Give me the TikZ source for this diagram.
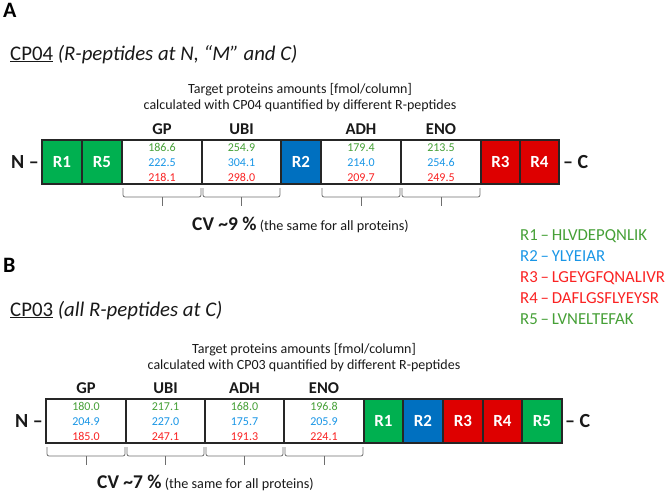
\documentclass[tikz,border=0pt]{standalone}
\usepackage{fontspec}
\setmainfont{Carlito}
\usetikzlibrary{calc}
\definecolor{boxgreen}{RGB}{0,176,80}
\definecolor{boxblue}{RGB}{0,112,192}
\definecolor{boxred}{RGB}{222,0,0}
\definecolor{numgreen}{RGB}{70,160,55}
\definecolor{numblue}{RGB}{25,150,230}
\definecolor{numred}{RGB}{250,35,35}
\definecolor{txt}{RGB}{25,25,25}
\definecolor{brkgray}{RGB}{110,110,110}
\tikzset{
  cell/.style={draw=black!85, line width=1.2pt, minimum height=44pt, inner sep=0pt, outer sep=0pt},
  pcell/.style={cell, fill=white},
  rcell/.style={cell, text=white, font=\bfseries\fontsize{17}{17}\selectfont},
  gcell/.style={rcell, fill=boxgreen},
  bcell/.style={rcell, fill=boxblue},
  redcell/.style={rcell, fill=boxred},
  num/.style={anchor=base, inner sep=0pt, font=\fontsize{12}{12}\selectfont},
  plabel/.style={anchor=base, inner sep=0pt, text=txt, font=\bfseries\fontsize{16.5}{16.5}\selectfont},
  header/.style={anchor=base, inner sep=0pt, text=txt, font=\fontsize{14}{14}\selectfont},
  term/.style={inner sep=0pt, text=txt, font=\bfseries\fontsize{20}{20}\selectfont},
  panel/.style={anchor=base west, inner sep=0pt, text=black, font=\bfseries\fontsize{22}{22}\selectfont},
  title/.style={anchor=base west, inner sep=0pt, text=txt, font=\fontsize{20.8}{20.8}\selectfont},
  cvtext/.style={anchor=base west, inner sep=0pt, text=txt, font=\fontsize{14.2}{14.2}\selectfont},
  legend/.style={anchor=base west, inner sep=0pt, font=\fontsize{16.8}{16.8}\selectfont},
  brk/.style={draw=brkgray, line width=0.8pt, rounded corners=2pt},
}
\begin{document}
\begin{tikzpicture}[x=1pt,y=-1pt]
\useasboundingbox (0,0) rectangle (666,493);

% ---------- Panel A ----------
\node[panel] (labA) at (3,17) {A};
\node[title] (titA) at (10,60) {\underline{CP04} \textit{(R-peptides at N, “M” and C)}};
\node[header] (hA1) at (300,93) {Target proteins amounts [fmol/column]};
\node[header] (hA2) at (300,109) {calculated with CP04 quantified by different R-peptides};

\node[gcell, minimum width=40pt] (r1A) at (62,162) {R1};
\node[gcell, minimum width=40pt] (r5A) at (102,162) {R5};
\node[pcell, minimum width=80pt] (gpA) at (162,162) {};
\node[pcell, minimum width=79pt] (ubiA) at (241.5,162) {};
\node[bcell, minimum width=40pt] (r2A) at (301,162) {R2};
\node[pcell, minimum width=80pt] (adhA) at (361,162) {};
\node[pcell, minimum width=80pt] (enoA) at (441,162) {};
\node[redcell, minimum width=39pt] (r3A) at (500.5,162) {R3};
\node[redcell, minimum width=39pt] (r4A) at (539.5,162) {R4};

\node[term, anchor=east] (nA) at (39,162) {N –};
\node[term, anchor=west] (cA) at (563,162) {– C};

% ---------- Panel B ----------
\node[panel] (labB) at (3,272) {B};
\node[title] (titB) at (10,316) {\underline{CP03} \textit{(all R-peptides at C)}};
\node[header] (hB1) at (304,353) {Target proteins amounts [fmol/column]};
\node[header] (hB2) at (304,369) {calculated with CP03 quantified by different R-peptides};

\node[pcell, minimum width=80pt] (gpB) at (86,421) {};
\node[pcell, minimum width=79pt] (ubiB) at (165.5,421) {};
\node[pcell, minimum width=79pt] (adhB) at (244.5,421) {};
\node[pcell, minimum width=80pt] (enoB) at (324,421) {};
\node[gcell, minimum width=39pt] (r1B) at (383.5,421) {R1};
\node[bcell, minimum width=40pt] (r2B) at (423,421) {R2};
\node[redcell, minimum width=40pt] (r3B) at (463,421) {R3};
\node[redcell, minimum width=39pt] (r4B) at (502.5,421) {R4};
\node[gcell, minimum width=40pt] (r5B) at (542,421) {R5};

\node[term, anchor=east] (nB) at (43,421) {N –};
\node[term, anchor=west] (cB) at (565,421) {– C};

% ---------- protein labels, numbers, brackets ----------
\foreach \c/\lab/\g/\b/\r in {
  gpA/GP/186.6/222.5/218.1, ubiA/UBI/254.9/304.1/298.0,
  adhA/ADH/179.4/214.0/209.7, enoA/ENO/213.5/254.6/249.5,
  gpB/GP/180.0/204.9/185.0, ubiB/UBI/217.1/227.0/247.1,
  adhB/ADH/168.0/175.7/191.3, enoB/ENO/196.8/205.9/224.1} {
  \node[plabel] (\c-lab) at ($(\c.north)+(0,-6)$) {\lab};
  \node[num, text=numgreen] (\c-g) at ($(\c.center)+(0,-11)$) {\g};
  \node[num, text=numblue] (\c-b) at ($(\c.center)+(0,4)$) {\b};
  \node[num, text=numred] (\c-r) at ($(\c.center)+(0,19)$) {\r};
  \draw[brk] ($(\c.south west)+(1,4)$) -- ($(\c.south west)+(1,13)$)
     -- ($(\c.south east)+(-1,13)$) -- ($(\c.south east)+(-1,4)$);
  \draw[brk, rounded corners=0pt] ($(\c.south)+(0,13)$) -- ($(\c.south)+(0,22)$);
}

% ---------- CV lines ----------
\node[cvtext] (cvA) at (192,230) {{\bfseries\fontsize{19.5}{19.5}\selectfont CV \textasciitilde9 \%} (the same for all proteins)};
\node[cvtext] (cvB) at (97,488) {{\bfseries\fontsize{19.5}{19.5}\selectfont CV \textasciitilde7 \%} (the same for all proteins)};

% ---------- legend ----------
\node[legend, text=numgreen] (l1) at (520,240) {R1\,–\,HLVDEPQNLIK};
\node[legend, text=numblue] (l2) at (520,261) {R2\,–\,YLYEIAR};
\node[legend, text=numred] (l3) at (520,282) {R3\,–\,LGEYGFQNALIVR};
\node[legend, text=numred] (l4) at (520,303) {R4\,–\,DAFLGSFLYEYSR};
\node[legend, text=numgreen] (l5) at (520,324) {R5\,–\,LVNELTEFAK};
\end{tikzpicture}
\end{document}
